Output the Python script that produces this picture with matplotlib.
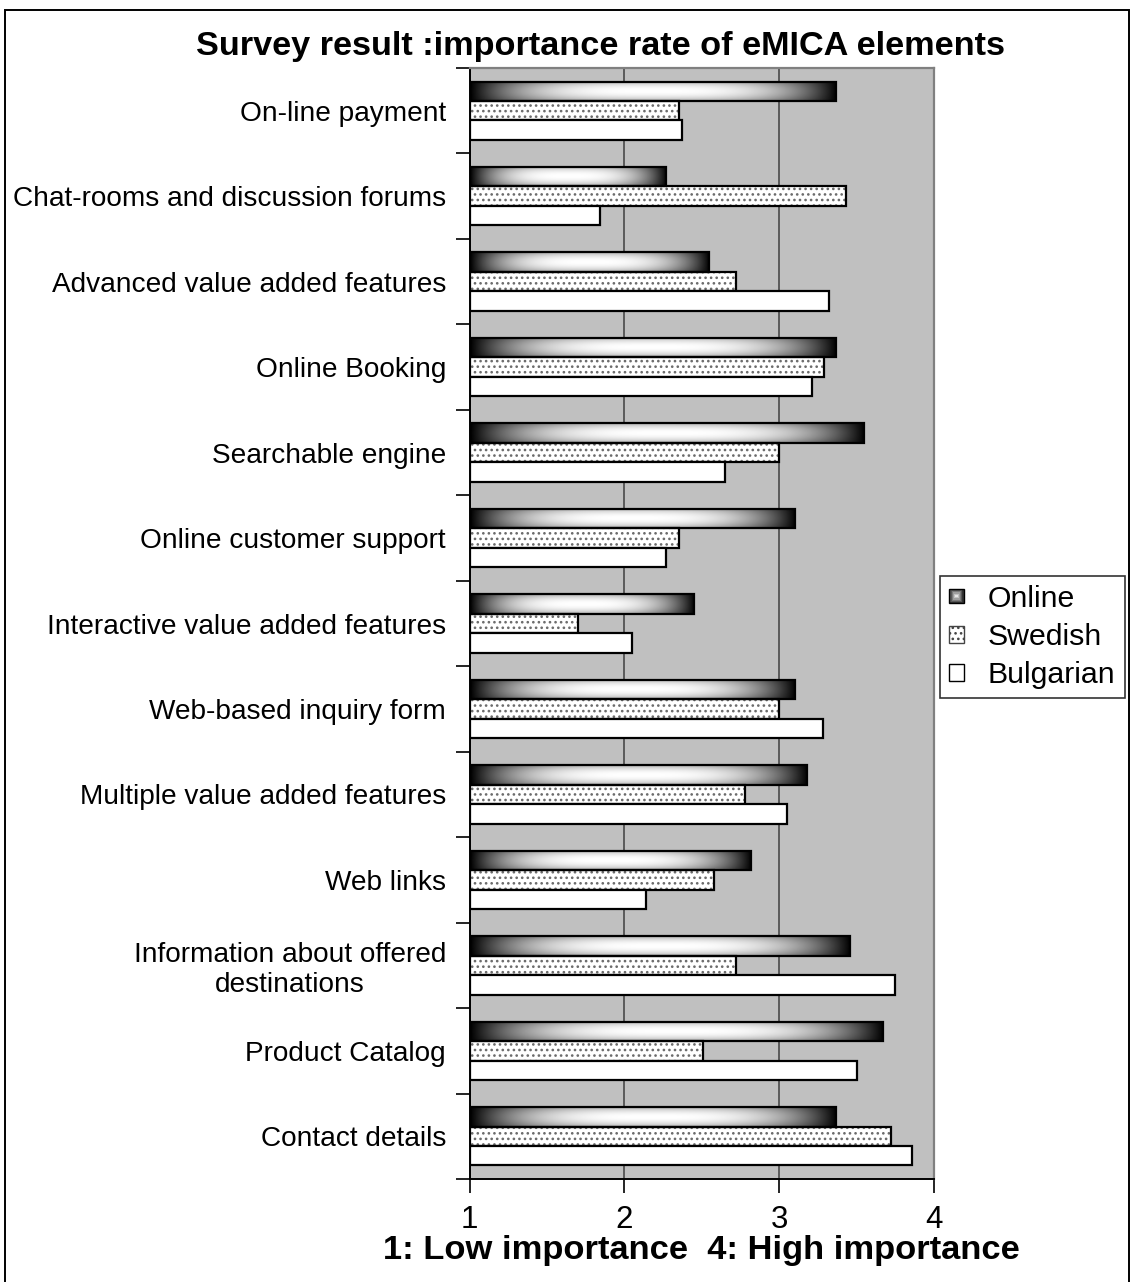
import matplotlib
matplotlib.use("Agg")
import matplotlib.pyplot as plt
import numpy as np
from matplotlib.patches import Rectangle
from matplotlib.legend_handler import HandlerBase
from matplotlib.ticker import FixedLocator

plt.rcParams['font.family'] = ['Liberation Sans', 'DejaVu Sans']
plt.rcParams['hatch.linewidth'] = 1.1

categories = [
    "On-line payment",
    "Chat-rooms and discussion forums",
    "Advanced value added features",
    "Online Booking",
    "Searchable engine",
    "Online customer support",
    "Interactive value added features",
    "Web-based inquiry form",
    "Multiple value added features",
    "Web links",
    "Information about offered\ndestinations",
    "Product Catalog",
    "Contact details",
]
online = [3.37, 2.27, 2.55, 3.37, 3.55, 3.10, 2.45, 3.10, 3.18, 2.82, 3.46, 3.67, 3.37]
swedish = [2.35, 3.43, 2.72, 3.29, 3.00, 2.35, 1.70, 3.00, 2.78, 2.58, 2.72, 2.51, 3.72]
bulgarian = [2.37, 1.84, 3.32, 3.21, 2.65, 2.27, 2.05, 3.28, 3.05, 2.14, 3.75, 3.50, 3.86]
series_names = ["Online", "Swedish", "Bulgarian"]
x_ticks = [1, 2, 3, 4]

W, H = 1131, 1282
fig = plt.figure(figsize=(W / 100, H / 100), dpi=100)
ax = fig.add_axes([469.5 / W, 1 - 1179 / H, (934 - 469.5) / W, (1179 - 68) / H])
ax.set_facecolor('#C0C0C0')

y = np.arange(len(categories))
bh = 0.228
base = x_ticks[0]

# shaded "from centre" fill for the Online bars
nx, ny = 300, 40
u = np.linspace(-1, 1, nx)
v = np.linspace(-1, 1, ny)
U, V = np.meshgrid(u, v)
shade = (1 - np.abs(U) ** 3) * (1 - 0.3 * V ** 2)

for i in range(len(categories)):
    yc = y[i] - bh
    r = ax.barh(yc, online[i] - base, height=bh, left=base, facecolor='none',
                edgecolor='black', linewidth=1.6, zorder=3)[0]
    im = ax.imshow(shade, cmap='gray', vmin=0, vmax=1, aspect='auto',
                   extent=(base, online[i], yc + bh / 2, yc - bh / 2),
                   interpolation='bilinear', zorder=2)
    im.set_clip_path(r)

# dotted Swedish bars
ax.barh(y, np.array(swedish) - base, height=bh, left=base, facecolor='white',
        edgecolor='#6a6a6a', linewidth=0, hatch='...', zorder=2)
ax.barh(y, np.array(swedish) - base, height=bh, left=base, facecolor='none',
        edgecolor='black', linewidth=1.6, zorder=3)

# plain Bulgarian bars
ax.barh(y + bh, np.array(bulgarian) - base, height=bh, left=base, facecolor='white',
        edgecolor='black', linewidth=1.6, zorder=3)

ax.set_xlim(1, 4)
ax.set_ylim(len(categories) - 0.5, -0.5)
ax.set_xticks(x_ticks)
ax.set_xticklabels([str(t) for t in x_ticks], fontsize=22.5)
ax.tick_params(axis='x', direction='out', length=10, width=1.2, pad=9)

ax.set_yticks(y)
ax.set_yticklabels(categories, fontsize=20.2)
ax.tick_params(axis='y', which='major', length=0, pad=17)
ax.yaxis.set_minor_locator(FixedLocator(np.arange(len(categories) + 1) - 0.5))
ax.tick_params(axis='y', which='minor', direction='out', length=10, width=1.2)
for lab in ax.get_yticklabels():
    lab.set_multialignment('center')

ax.set_axisbelow(True)
ax.xaxis.grid(True, color='#4a4a4a', linewidth=1.2)
ax.spines['left'].set_color('black')
ax.spines['left'].set_linewidth(1.4)
ax.spines['bottom'].set_color('black')
ax.spines['bottom'].set_linewidth(1.4)
for s in ['top', 'right']:
    ax.spines[s].set_color('#808080')
    ax.spines[s].set_linewidth(1.6)

fig.text(600 / W, 1 - 46 / H, "Survey result :importance rate of eMICA elements",
         fontsize=24.7, fontweight='bold', ha='center', va='center')
fig.text(701.75 / W, 1 - 1250 / H, "1: Low importance  4: High importance",
         fontsize=24.8, fontweight='bold', ha='center', va='center')


class GradientSquare(HandlerBase):
    def create_artists(self, legend, orig_handle, xdescent, ydescent,
                       width, height, fontsize, trans):
        side = min(width, height)
        x0 = -xdescent + (width - side) / 2
        y0 = -ydescent + (height - side) / 2
        arts = []
        steps = 6
        for k in range(steps):
            f = k / steps
            g = 0.2 + 0.7 * (k / (steps - 1))
            off = side * f / 2
            arts.append(Rectangle((x0 + off, y0 + off), side - 2 * off, side - 2 * off,
                                  facecolor=(g, g, g), edgecolor='none', transform=trans))
        arts.append(Rectangle((x0, y0), side, side, facecolor='none',
                              edgecolor='black', linewidth=1.0, transform=trans))
        return arts


h_online = Rectangle((0, 0), 1, 1)
h_swedish = Rectangle((0, 0), 1, 1, facecolor='white', edgecolor='#444444',
                      hatch='...', linewidth=1.0)
h_bulgarian = Rectangle((0, 0), 1, 1, facecolor='white', edgecolor='black', linewidth=1.0)

leg = fig.legend([h_online, h_swedish, h_bulgarian], series_names,
                 handler_map={h_online: GradientSquare()},
                 loc='center left', bbox_to_anchor=(940 / W, 1 - 637 / H),
                 fontsize=21.8, frameon=True, fancybox=False, edgecolor='black',
                 handlelength=0.48, handleheight=0.48, handletextpad=0.8,
                 labelspacing=0.34, borderpad=0.3, borderaxespad=0)
leg.get_frame().set_linewidth(1.2)

# outer chart border (runs off the bottom edge)
fig.patches.append(Rectangle((5 / W, -10 / H), (1129 - 5) / W, (1272 + 10) / H,
                             transform=fig.transFigure, facecolor='none',
                             edgecolor='black', linewidth=1.4))

fig.savefig("out.png", dpi=100)
